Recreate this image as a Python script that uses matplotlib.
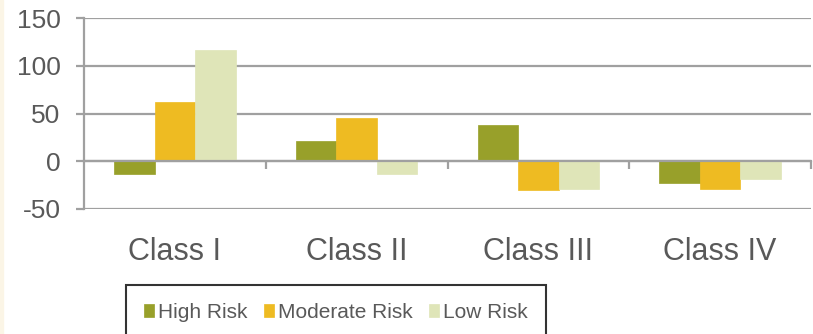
import numpy as np
import matplotlib
matplotlib.use("Agg")
import matplotlib.pyplot as plt
from matplotlib.patches import Rectangle

# Datos
categories = ["Class I", "Class II", "Class III", "Class IV"]
series_names = ["High Risk", "Moderate Risk", "Low Risk"]
high_risk = [-13, 21, 38, -23]
moderate_risk = [62, 45, -30, -29]
low_risk = [116, -13, -29, -19]

colors = ["#98A02A", "#EEBB22", "#DFE5B8"]
text_color = "#595959"
grid_color = "#A0A0A0"

plt.rcParams["font.family"] = ["Liberation Sans", "DejaVu Sans"]
plt.rcParams["axes.unicode_minus"] = False

fig = plt.figure(figsize=(8.13, 3.34), dpi=100)
fig.patches.append(Rectangle((0, 0), 3 / 813, 1, transform=fig.transFigure,
                             color="#FBF5E6", zorder=0))
ax = fig.add_axes([84 / 813, 125 / 334, 727 / 813, 191 / 334])

x = np.arange(len(categories))
w = 0.223
for i, (vals, name) in enumerate(zip([high_risk, moderate_risk, low_risk], series_names)):
    ax.bar(x + (i - 1) * w, vals, width=w, color=colors[i], label=name,
           edgecolor=colors[i], linewidth=0.5, zorder=2)

ax.set_xlim(-0.5, 3.5)
ax.set_ylim(-50, 150)
ax.set_yticks([-50, 0, 50, 100, 150])

# Ejes y rejilla
ax.grid(axis="y", color=grid_color, linewidth=1.6, zorder=1)
ax.set_axisbelow(True)
for s in ["top", "right"]:
    ax.spines[s].set_visible(False)
ax.spines["left"].set_color(grid_color)
ax.spines["left"].set_linewidth(1.6)
ax.spines["bottom"].set_position(("data", 0))
ax.spines["bottom"].set_color(grid_color)
ax.spines["bottom"].set_linewidth(1.6)
ax.spines["bottom"].set_zorder(3)

ax.set_xticks(x)
ax.set_xticklabels(categories)
ax.set_xticks([0.5, 1.5, 2.5, 3.5], minor=True)
ax.tick_params(axis="x", which="major", length=0, pad=54.5, labelsize=22,
               labelcolor=text_color)
ax.tick_params(axis="x", which="minor", length=6, width=1.6, color=grid_color,
               direction="out")
ax.tick_params(axis="y", length=6, width=1.6, color=grid_color, pad=11,
               labelsize=19, labelcolor=text_color)

leg = fig.legend(loc="upper center", bbox_to_anchor=(336 / 813, 49 / 334),
                 ncol=3, fontsize=15, frameon=True, fancybox=False,
                 handlelength=0.48, handleheight=0.55, handletextpad=0.19,
                 columnspacing=0.8, borderpad=0.85, borderaxespad=0)
leg.get_frame().set_edgecolor("black")
leg.get_frame().set_linewidth(1.5)
for t in leg.get_texts():
    t.set_color(text_color)

plt.savefig("out.png", dpi=100)
